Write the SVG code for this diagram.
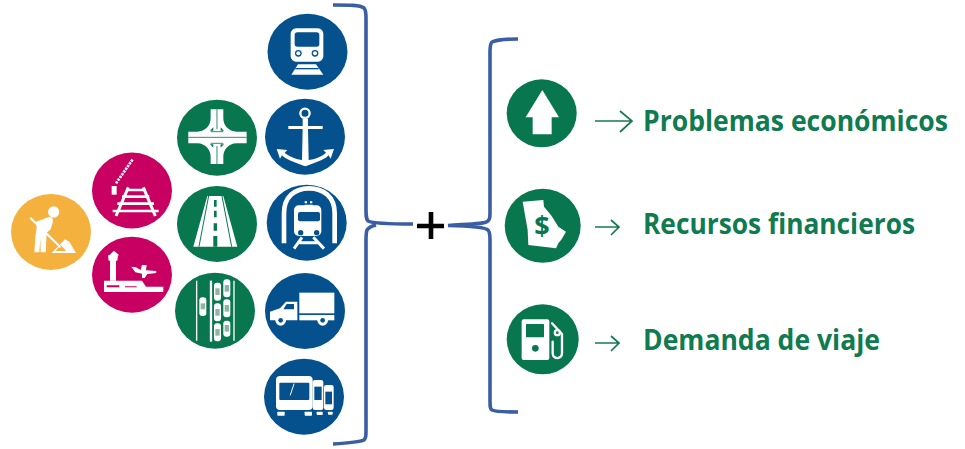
<svg xmlns="http://www.w3.org/2000/svg" width="965" height="449" viewBox="0 0 965 449">
<style>
.y{fill:#f4b13e}.m{fill:#c70062}.g{fill:#08774f}.b{fill:#04518d}
.w{fill:#fff}.ws{fill:none;stroke:#fff;stroke-linecap:round;stroke-linejoin:round}
.gs{fill:none;stroke:#08774f}.bs{fill:none;stroke:#04518d}
.brace{fill:none;stroke:#3a5da4;stroke-width:3.6;stroke-linecap:butt}
.arr{fill:none;stroke:#17784f;stroke-width:1.7}
.lbl{font-family:"Open Sans","Noto Sans",sans-serif;font-weight:700;font-size:28px;fill:#107a50}
</style>
<rect width="965" height="449" fill="#fff"/>
<g id="connectors">
<path class="brace" d="M333 5C350 5 360 5 364 8C366 10 366 13 366 18V208C366 216 366 219 368 221C372 223 390 224 413 224"/>
<path class="brace" d="M376 225C372 226 369 227 367 230C366 232 366 235 366 242V428C366 436 366 438 364 440C360 442 350 443 333 444"/>
<path class="brace" d="M518 39C505 39 496 40 492 42C490 44 490 47 490 52V210C490 217 490 219 488 221C485 224 470 224 448 225.500C470 226 485 227 488 230C490 232 490 235 490 240V400C490 406 490 409 492 410C496 412 505 412 518 412"/>
<path class="arr" d="M595 121H632M620 111L632 121L620 132"/>
<path class="arr" d="M595 227H619M611 220L619 227L611 235"/>
<path class="arr" d="M595 343H619M611 336L619 343L611 351"/>
</g>
<g id="plus"><path d="M417 226H444M431 212V239" fill="none" stroke="#000" stroke-width="4.600"/></g>

<g id="worker"><ellipse class="y" cx="51" cy="232" rx="40" ry="38"/>
<g transform="translate(10 150) scale(.3333)">
<circle class="w" cx="131" cy="186" r="17"/>
<path class="w" d="M78 215L118 200Q132 202 128 218L122 238L110 248L107 307H92L91 265L88 307H73L76 260L80 232Z"/>
<path class="ws" stroke-width="6" d="M62 205L150 290"/>
<path class="w" fill-rule="evenodd" d="M125 309L165 268L178 275L198 309ZM137 303H168L152 284Z"/>
</g></g>

<g id="rail"><ellipse class="m" cx="132" cy="190.500" rx="40" ry="38"/>
<g transform="translate(10 150) scale(.3333)">
<path class="ws" stroke-width="8" stroke-dasharray="7 3" style="stroke-linecap:butt" d="M318 100L368 28"/>
<rect class="w" x="305" y="108" width="15" height="26"/>
<path class="ws" stroke-width="9" style="stroke-linecap:butt" d="M355 112L318 198M400 112L436 198"/>
<path class="ws" stroke-width="8" style="stroke-linecap:butt" d="M348 120H408M336 140H418M322 161H432M308 183H446"/>
</g></g>

<g id="airport"><ellipse class="m" cx="132" cy="274.700" rx="40" ry="38"/>
<g transform="translate(10 150) scale(.3333)">
<path class="w" d="M312 302L328 316H324L322 332H318V392H300V332H296L294 316H298Z"/>
<path class="w" d="M282 392H396L408 410H460V426H282Z"/>
<path class="m" d="M290 406H328V412H290ZM345 409H380V412H345Z"/>
<path class="w" d="M364 350L378 352L392 360L396 345H410L408 361L438 363Q442 368 434 370L412 372L404 384H396L396 371L376 367Z"/>
</g></g>

<g id="interchange"><ellipse class="g" cx="217" cy="137.700" rx="40" ry="38"/>
<g transform="translate(0 90) scale(.3333)">
<path class="w" d="M632 58H670V85C670 105 685 125 710 125H740V160H710C685 160 670 180 670 200V222H632V200C632 180 617 160 592 160H565V125H592C617 125 632 105 632 85Z"/>
<path class="gs" stroke-width="2.500" d="M651 58V118M651 168V222M565 142H740M632 125H670M632 160H670"/>
<path class="g" d="M640 112L630 122H640ZM662 112L672 122H662ZM640 173L630 163H640ZM662 173L672 163H662Z"/>
</g></g>

<g id="road"><ellipse class="g" cx="217" cy="224" rx="40" ry="38"/>
<g transform="translate(0 90) scale(.3333)">
<path class="w" d="M622 318H670L712 470H580Z"/>
<path class="gs" stroke-width="3" d="M626 318L597 470M666 318L695 470"/>
<path class="g" d="M642 330H650V350H642ZM642 362H650V382H642ZM641 400H651V422H641ZM640 438H652V470H640Z"/>
</g></g>

<g id="traffic"><ellipse class="g" cx="215" cy="310.700" rx="40" ry="38"/>
<g transform="translate(0 90) scale(.3333)">
<path class="ws" stroke-width="4" style="stroke-linecap:butt" d="M590 572V752M702 572V752"/>
<path class="ws" stroke-width="7" style="stroke-linecap:butt" d="M633 572V755"/>
<g class="w">
<rect x="598" y="622" width="21" height="56" rx="9"/>
<rect x="642" y="578" width="21" height="54" rx="9"/><rect x="670" y="568" width="21" height="54" rx="9"/>
<rect x="642" y="640" width="21" height="54" rx="9"/><rect x="670" y="628" width="21" height="54" rx="9"/>
<rect x="642" y="700" width="21" height="54" rx="9"/><rect x="670" y="692" width="21" height="48" rx="9"/>
</g>
<g fill="#8fb4a6">
<rect x="602" y="640" width="13" height="18"/>
<rect x="646" y="595" width="13" height="20"/><rect x="674" y="585" width="13" height="20"/>
<rect x="646" y="657" width="13" height="20"/><rect x="674" y="645" width="13" height="20"/>
<rect x="646" y="717" width="13" height="20"/><rect x="674" y="705" width="13" height="20"/>
</g>
</g></g>

<g id="train"><ellipse class="b" cx="307.500" cy="51.700" rx="40" ry="38"/>
<g transform="translate(260 0) scale(.3333)">
<rect class="w" x="92" y="85" width="98" height="100" rx="16"/>
<rect class="b" x="104" y="97" width="74" height="43" rx="8"/>
<circle class="b" cx="115" cy="160" r="10"/><circle class="b" cx="165" cy="160" r="10"/>
<circle class="w" cx="115" cy="160" r="6"/><circle class="w" cx="165" cy="160" r="6"/>
<path class="w" d="M114 193H168L190 224H94Z"/>
<path class="bs" stroke-width="4" d="M106 206H176"/>
</g></g>

<g id="anchor"><ellipse class="b" cx="305" cy="136.700" rx="40" ry="38"/>
<g transform="translate(260 0) scale(.3333)">
<circle class="ws" stroke-width="7" cx="135" cy="340" r="14"/>
<path class="w" d="M128 356H144V378H188V387H144L146 480C175 476 190 465 198 458L190 450L222 447L212 476L206 466C190 482 160 490 136 499C112 490 82 482 66 466L60 476L50 447L82 450L74 458C82 465 100 476 126 480L128 387H85V378H128Z"/>
</g></g>

<g id="tunnel"><ellipse class="b" cx="306.700" cy="222.700" rx="40" ry="38"/>
<g transform="translate(260 0) scale(.3333)">
<path class="ws" stroke-width="14" style="stroke-linecap:butt" d="M72 730V640C72 590 105 565 147 565C190 565 224 590 224 640V730"/>
<rect class="w" x="102" y="616" width="82" height="92" rx="14"/>
<rect class="b" x="114" y="636" width="66" height="28" rx="6"/>
<circle class="b" cx="122" cy="698" r="8"/><circle class="b" cx="170" cy="698" r="8"/>
<path class="ws" stroke-width="9" style="stroke-linecap:butt" d="M126 712L102 746M160 712L192 746M118 728H174"/>
<path class="w" d="M134 604h7v6h-7zM150 604h7v6h-7zM134 614h24v8h-24z"/>
</g></g>

<g id="truck"><ellipse class="b" cx="305" cy="311" rx="40" ry="38"/>
<g transform="translate(260 180) scale(.3333)">
<rect class="w" x="118" y="338" width="105" height="62"/>
<rect class="w" x="118" y="405" width="105" height="16"/>
<path class="w" d="M30 395L60 385L78 365H112V421H30Z"/>
<path class="b" d="M80 372H102V388H70Z"/>
<circle class="w" cx="62" cy="421" r="16"/><circle class="b" cx="62" cy="421" r="7"/>
<circle class="w" cx="188" cy="421" r="16"/><circle class="b" cx="188" cy="421" r="7"/>
</g></g>

<g id="bus"><ellipse class="b" cx="304" cy="396.700" rx="40" ry="38"/>
<g transform="translate(260 180) scale(.3333)">
<rect class="w" x="192" y="615" width="29" height="75" rx="7"/>
<rect class="w" x="158" y="600" width="32" height="90" rx="7"/>
<rect class="w" x="48" y="588" width="110" height="102" rx="12"/>
<rect class="b" x="58" y="608" width="90" height="52" rx="3"/>
<rect class="b" x="163" y="620" width="22" height="40"/>
<rect class="b" x="196" y="635" width="20" height="38"/>
<path class="ws" stroke-width="3" d="M102 612L91 645"/>
<rect class="w" x="52" y="695" width="22" height="12" rx="2"/><rect class="w" x="134" y="695" width="22" height="12" rx="2"/>
<rect class="w" x="170" y="695" width="18" height="10" rx="2"/><rect class="w" x="204" y="695" width="14" height="9" rx="2"/>
</g></g>

<g id="economic"><ellipse class="g" cx="541.700" cy="113.300" rx="35" ry="34"/>
<g transform="translate(480 30) scale(.3333)">
<path class="w" d="M187 180L237 262H215V313H158V262H137Z"/>
</g>
<text class="lbl" x="643" y="131" textLength="305" lengthAdjust="spacingAndGlyphs">Problemas económicos</text></g>

<g id="funding"><ellipse class="g" cx="542.700" cy="225.700" rx="38" ry="37"/>
<g transform="translate(480 30) scale(.3333)">
<path class="w" d="M128 515L190 510L192 530L215 558L235 590L258 605L245 628L235 640L228 655L145 645L143 600Z"/>
</g>
<text x="542" y="235" font-family="Open Sans,sans-serif" font-weight="700" font-size="27" text-anchor="middle" fill="#08774f">$</text>
<text class="lbl" x="643" y="234" textLength="272" lengthAdjust="spacingAndGlyphs">Recursos financieros</text></g>

<g id="fuel"><ellipse class="g" cx="542.700" cy="339.300" rx="36" ry="35"/>
<g transform="translate(480 30) scale(.3333)">
<rect class="w" x="125" y="868" width="83" height="122" rx="6"/>
<rect class="g" x="138" y="882" width="54" height="40" rx="2"/>
<circle class="g" cx="166" cy="955" r="10"/>
<path class="ws" stroke-width="7" d="M216 880L246 912V970C246 990 218 988 218 970V935"/>
<circle class="w" cx="232" cy="908" r="11"/><circle class="g" cx="232" cy="908" r="4"/>
</g>
<text class="lbl" x="643" y="350" textLength="237" lengthAdjust="spacingAndGlyphs">Demanda de viaje</text></g>
</svg>
